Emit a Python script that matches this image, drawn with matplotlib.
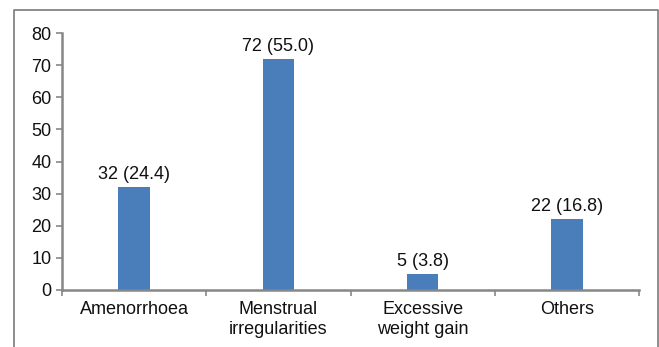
import matplotlib
matplotlib.use("Agg")
import matplotlib.pyplot as plt
from matplotlib.lines import Line2D

categories = ["Amenorrhoea", "Menstrual\nirregularities", "Excessive\nweight gain", "Others"]
counts = [32, 72, 5, 22]
percents = [24.4, 55.0, 3.8, 16.8]
y_ticks = [0, 10, 20, 30, 40, 50, 60, 70, 80]

plt.rcParams["font.family"] = ["Liberation Sans", "DejaVu Sans"]

W, H = 659, 347
fig = plt.figure(figsize=(W / 100, H / 100), dpi=100)
ax = fig.add_axes([62 / W, 1 - 290 / H, (639 - 62) / W, (290 - 33) / H])

axis_grey = "#878787"
bar_blue = "#4a7ebb"
fs = 13

x = list(range(len(categories)))
bars = ax.bar(x, counts, width=0.22, color=bar_blue, zorder=2)

for b, n, p in zip(bars, counts, percents):
    ax.annotate(f"{n} ({p:.1f})", (b.get_x() + b.get_width() / 2, b.get_height()),
                xytext=(0, 3), textcoords="offset points",
                ha="center", va="bottom", fontsize=fs, color="#111111")

ax.set_xlim(-0.5, len(categories) - 0.5)
ax.set_ylim(0, 80)
ax.set_yticks(y_ticks)
ax.set_xticks([i + 0.5 for i in range(-1, len(categories))])
ax.set_xticklabels([])
ax.set_xticks(x, minor=True)
ax.set_xticklabels(categories, minor=True, fontsize=fs, color="#111111")

ax.tick_params(axis="y", length=4, width=1.2, color=axis_grey, labelsize=fs,
               labelcolor="#111111", pad=3.5)
ax.tick_params(axis="x", which="major", length=4, width=1.2, color=axis_grey)
ax.tick_params(axis="x", which="minor", length=0, pad=8)

for side in ["top", "right"]:
    ax.spines[side].set_visible(False)
for side in ["left", "bottom"]:
    ax.spines[side].set_color(axis_grey)
    ax.spines[side].set_linewidth(1.8)

# outer frame (open at the bottom)
fx = [13.5 / W, 13.5 / W, 657.5 / W, 657.5 / W]
fy = [0, 1 - 9.5 / H, 1 - 9.5 / H, 0]
fig.add_artist(Line2D(fx, fy, color="#7a7a7a", linewidth=1.2, transform=fig.transFigure))

fig.savefig("out.png", dpi=100)
